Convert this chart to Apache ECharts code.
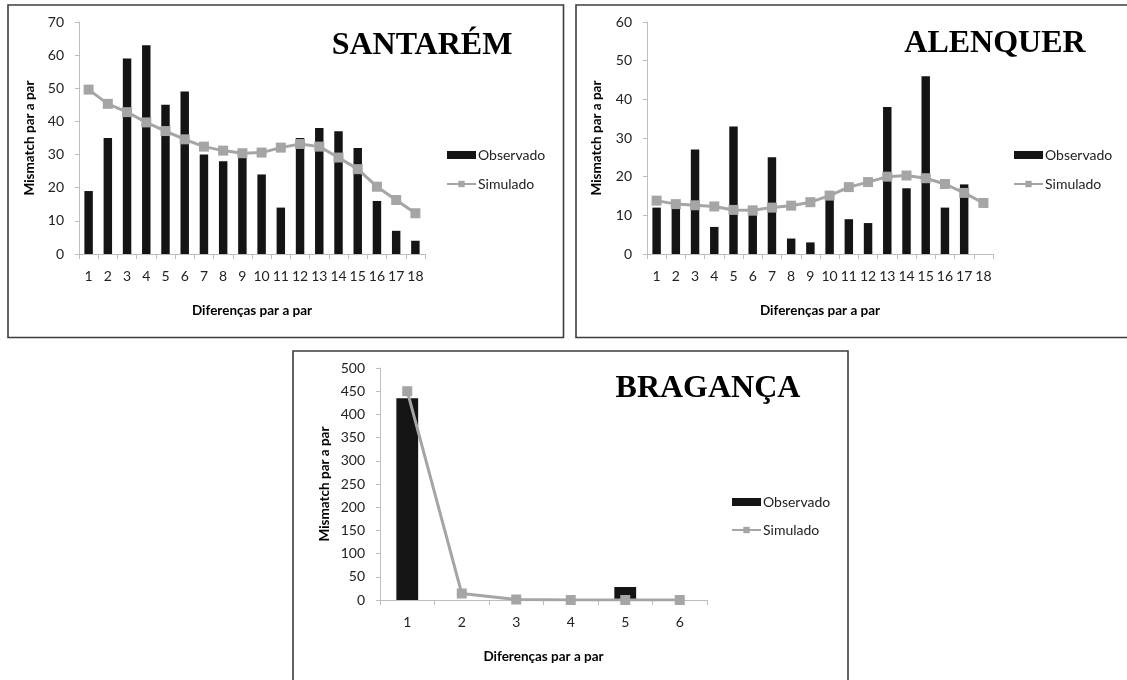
<!DOCTYPE html>
<html>
<head>
<meta charset="utf-8">
<script src="https://cdn.jsdelivr.net/npm/echarts@6/dist/echarts.min.js"></script>
<style>
html,body{margin:0;padding:0;background:#fff;}
#c{width:1127px;height:680px;}
</style>
</head>
<body>
<div id="c"></div>
<script>
// ---- data ----
const santaremCats = ['1','2','3','4','5','6','7','8','9','10','11','12','13','14','15','16','17','18'];
const santaremObs = [19,35,59,63,45,49,30,28,29,24,14,35,38,37,32,16,7,4];
const santaremSim = [49.6,45.3,42.8,39.7,37.1,34.6,32.4,31.2,30.4,30.6,32.1,33.2,32.4,29.1,25.6,20.3,16.3,12.3];

const alenquerCats = ['1','2','3','4','5','6','7','8','9','10','11','12','13','14','15','16','17','18'];
const alenquerObs = [12,12,27,7,33,10,25,4,3,14,9,8,38,17,46,12,18,0];
const alenquerSim = [13.8,12.9,12.6,12.3,11.4,11.3,12.0,12.5,13.4,15.1,17.3,18.6,20.0,20.3,19.6,18.1,15.8,13.2];

const bragancaCats = ['1','2','3','4','5','6'];
const bragancaObs = [435,0,0,0,28,0];
const bragancaSim = [450,14,1,0,0,0];

const yTicksSantarem = {min:0, max:70, interval:10};
const yTicksAlenquer = {min:0, max:60, interval:10};
const yTicksBraganca = {min:0, max:500, interval:50};

const titles = ['SANTARÉM','ALENQUER','BRAGANÇA'];
const xName = 'Diferenças par a par';
const yName = 'Mismatch par a par';

// ---- styling ----
const FONT = 'Lato, "Open Sans", sans-serif';
const AXIS_COLOR = '#bdbdbd';
const BAR_COLOR = '#141414';
const LINE_COLOR = '#a5a5a5';
const TICK_FS = 14;
const NAME_FS = 13.5;

const panels = [
  {grid:{left:79, top:22, width:346, height:232}, cats:santaremCats, obs:santaremObs, sim:santaremSim, y:yTicksSantarem, yGap:42, barW:'44%',
   title:{x:422, y:46}, legend:{left:446, top:148}, legendGap:15},
  {grid:{left:647, top:22, width:346, height:232}, cats:alenquerCats, obs:alenquerObs, sim:alenquerSim, y:yTicksAlenquer, yGap:43, barW:'44%',
   title:{x:995, y:44}, legend:{left:1013, top:148}, legendGap:15},
  {grid:{left:380, top:368, width:327, height:232}, cats:bragancaCats, obs:bragancaObs, sim:bragancaSim, y:yTicksBraganca, yGap:48, barW:'40%',
   title:{x:708, y:389}, legend:{left:731, top:495}, legendGap:14}
];

const grid = [], xAxis = [], yAxis = [], series = [], legend = [], graphic = [];

panels.forEach((p, i) => {
  grid.push(Object.assign({containLabel:false}, p.grid));
  xAxis.push({
    type:'category', gridIndex:i, data:p.cats, boundaryGap:true,
    name:xName, nameLocation:'middle', nameGap:50,
    nameTextStyle:{fontFamily:FONT, fontWeight:'bold', fontSize:NAME_FS, color:'#000'},
    axisLine:{lineStyle:{color:AXIS_COLOR, width:1}},
    axisTick:{show:true, length:5, lineStyle:{color:AXIS_COLOR}},
    axisLabel:{fontFamily:FONT, fontSize:TICK_FS, color:'#222', margin:15, interval:0},
    splitLine:{show:false}
  });
  yAxis.push({
    type:'value', gridIndex:i, min:p.y.min, max:p.y.max, interval:p.y.interval,
    name:yName, nameLocation:'middle', nameGap:p.yGap, nameRotate:90,
    nameTextStyle:{fontFamily:FONT, fontWeight:'bold', fontSize:NAME_FS, color:'#000'},
    axisLine:{show:true, lineStyle:{color:AXIS_COLOR, width:1}},
    axisTick:{show:true, length:4, lineStyle:{color:AXIS_COLOR}},
    axisLabel:{fontFamily:FONT, fontSize:TICK_FS, color:'#222', margin:15},
    splitLine:{show:false}
  });
  series.push({
    name:'Observado', type:'bar', xAxisIndex:i, yAxisIndex:i, data:p.obs,
    barWidth:p.barW, itemStyle:{color:BAR_COLOR}, z:2, animation:false
  });
  series.push({
    name:'Simulado', type:'line', xAxisIndex:i, yAxisIndex:i, data:p.sim,
    symbol:'rect', symbolSize:10, showSymbol:true,
    lineStyle:{color:LINE_COLOR, width:3},
    itemStyle:{color:LINE_COLOR, borderWidth:0}, z:3, animation:false
  });
  legend.push({
    orient:'vertical', left:p.legend.left, top:p.legend.top, padding:0,
    itemWidth:29, itemHeight:8, itemGap:p.legendGap, selectedMode:false,
    textStyle:{fontFamily:FONT, fontSize:14, color:'#222', padding:[0,0,0,-3]},
    data:[{name:'Observado', icon:'rect'}, {name:'Simulado'}]
  });
  graphic.push({
    type:'text', x:p.title.x, y:p.title.y,
    style:{text:titles[i], font:'bold 32px "Liberation Serif", "Times New Roman", serif', fill:'#000',
      textAlign:'center', textVerticalAlign:'middle'}, z:10
  });
});

// panel borders
const frames = [
  {x:8, y:5, w:555.5, h:332.5},
  {x:576, y:5, w:560, h:332.5},
  {x:293, y:351, w:555, h:340}
];
frames.forEach(f => {
  graphic.push({type:'rect', shape:{x:f.x, y:f.y, width:f.w, height:f.h},
    style:{fill:'none', stroke:'#3c3c3c', lineWidth:1.6}, z:0, silent:true});
});

const chart = echarts.init(document.getElementById('c'), null, {renderer:'canvas'});
chart.setOption({
  animation:false,
  backgroundColor:'#fff',
  grid, xAxis, yAxis, series, legend, graphic
});
</script>
</body>
</html>
